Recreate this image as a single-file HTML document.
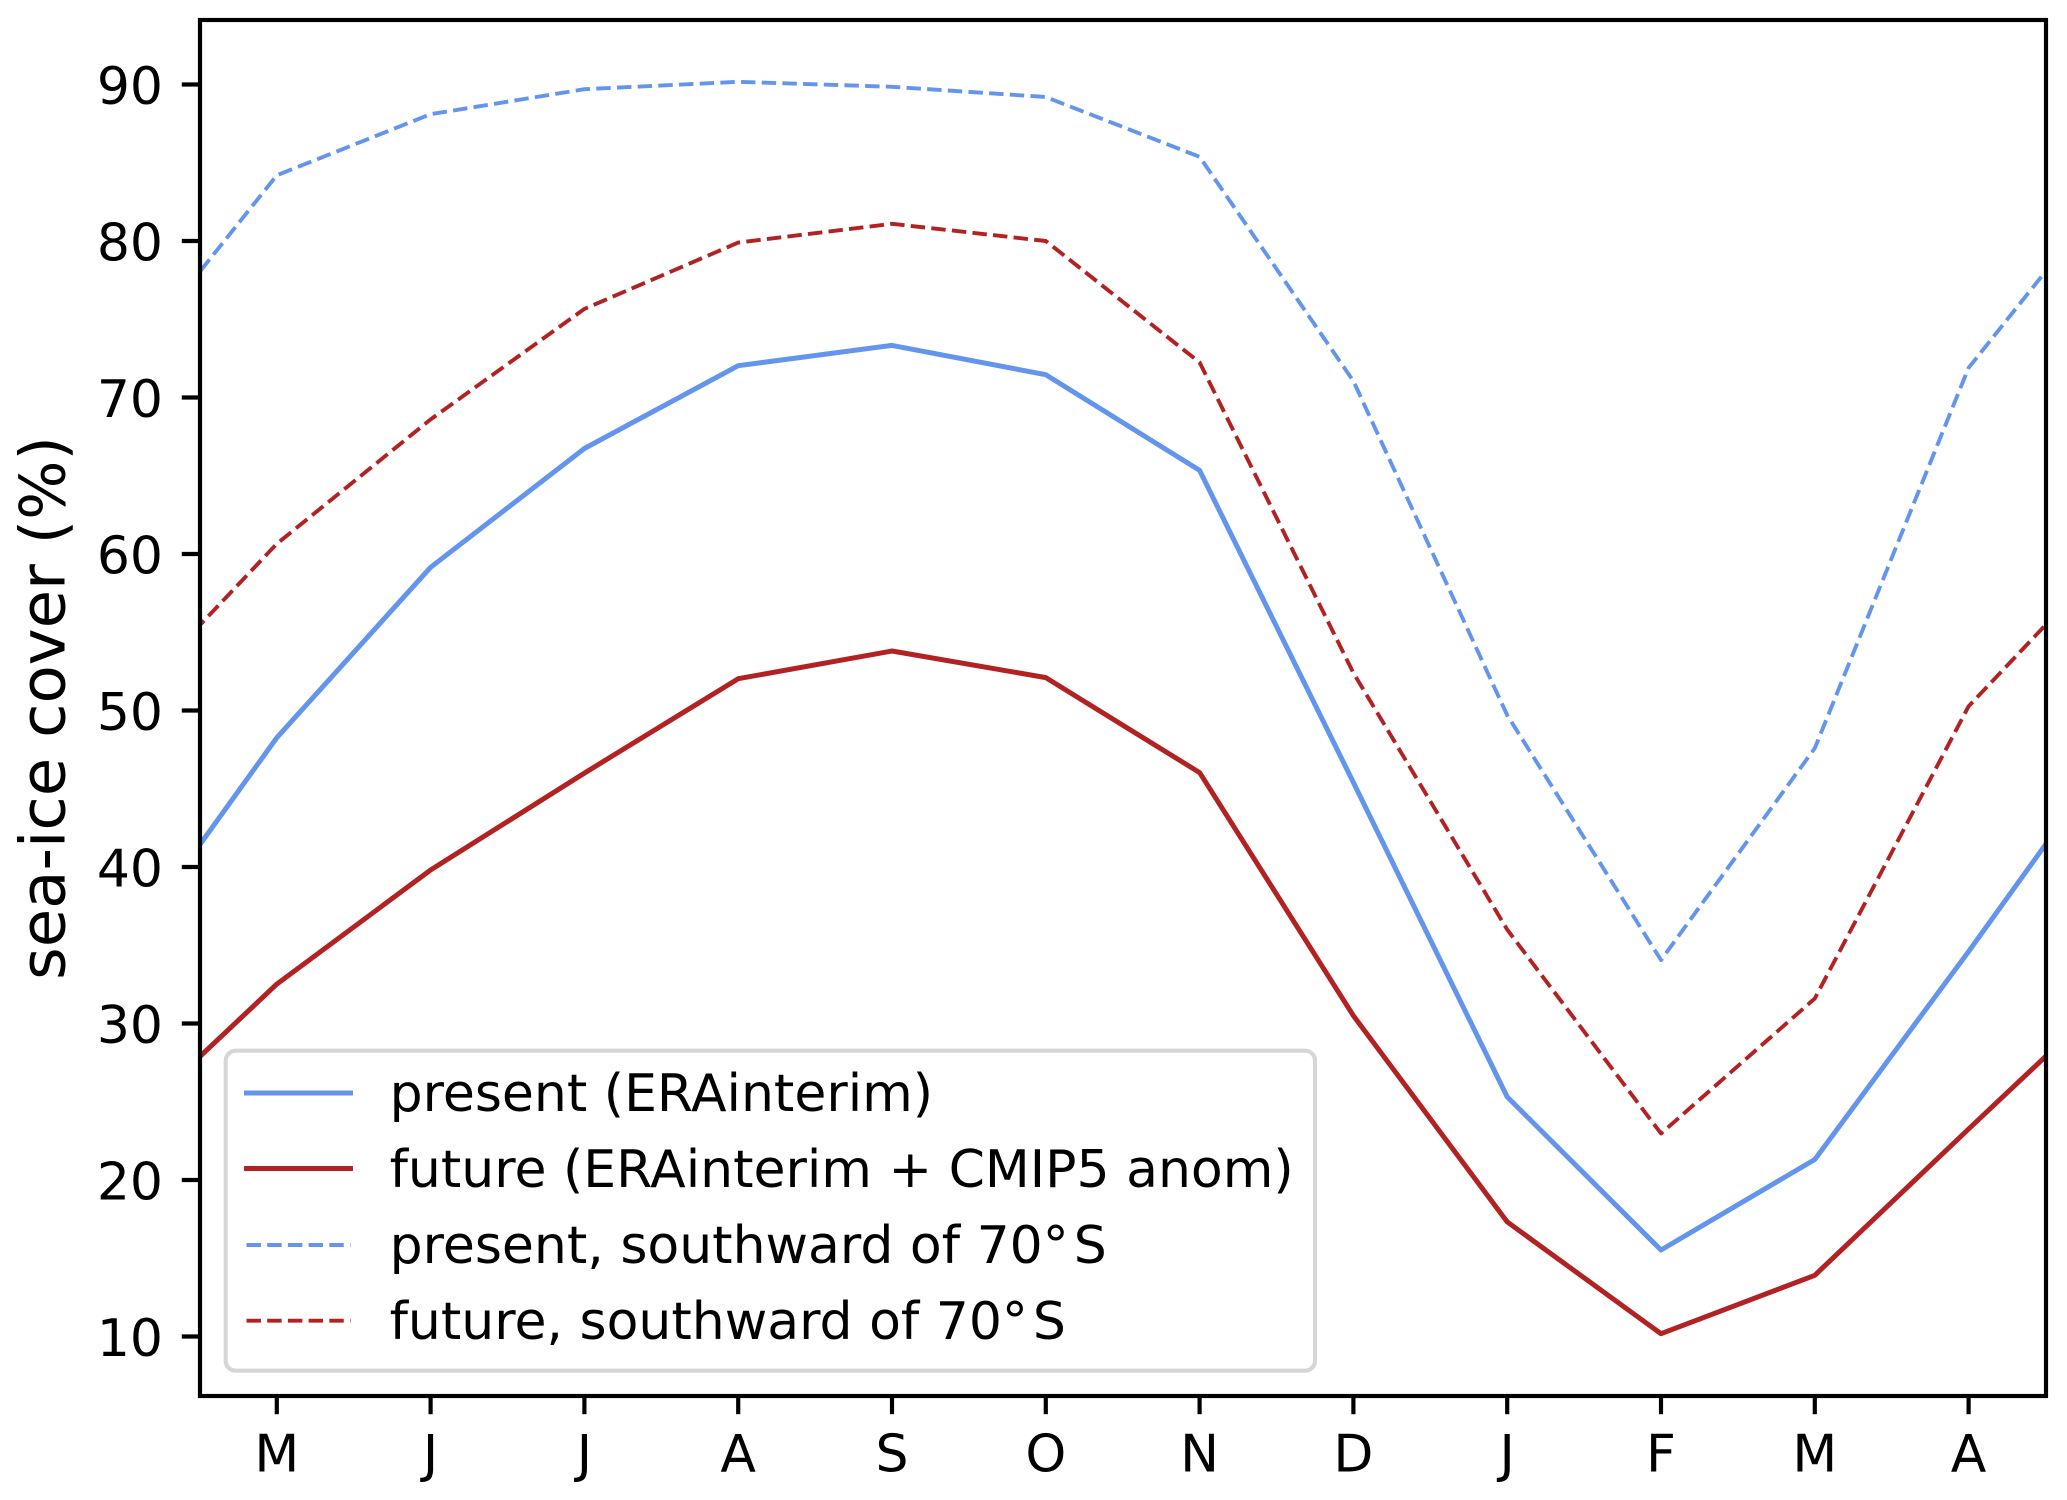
<!DOCTYPE html>
<html>
<head>
<meta charset="utf-8">
<style>
html,body{margin:0;padding:0;background:#ffffff;}
svg{display:block;}
text{font-family:"DejaVu Sans","Liberation Sans",sans-serif;fill:#000;}
</style>
</head>
<body>
<svg xmlns="http://www.w3.org/2000/svg" width="2067" height="1500" viewBox="0 0 2067 1500">
<rect x="0" y="0" width="2067" height="1500" fill="#ffffff"/>
<defs>
<clipPath id="ax"><rect x="200" y="20" width="1846" height="1376"/></clipPath>
</defs>
<g clip-path="url(#ax)" fill="none" stroke-linejoin="round">
<!-- present solid -->
<polyline stroke="#6495ED" stroke-width="5" stroke-linecap="square"
points="123.0,951.5 276.8,737.7 430.6,567.3 584.4,448.5 738.2,365.7 892.0,345.4 1045.8,374.7 1199.6,470.4 1353.4,782.5 1507.2,1096.9 1661.0,1250.0 1814.8,1159.5 1968.6,951.5 2122.4,737.7"/>
<!-- future solid -->
<polyline stroke="#B22222" stroke-width="5" stroke-linecap="square"
points="123.0,1129.0 276.8,984.1 430.6,870.0 584.4,773.1 738.2,678.7 892.0,651.0 1045.8,677.6 1199.6,772.6 1353.4,1015.7 1507.2,1221.9 1661.0,1333.7 1814.8,1275.3 1968.6,1129.0 2122.4,984.1"/>
<!-- present dashed -->
<polyline stroke="#6495ED" stroke-width="3.9" stroke-dasharray="14.45 6.25"
points="123.0,367.8 276.8,175.3 430.6,114.2 584.4,89.2 738.2,81.8 892.0,86.8 1045.8,97.0 1199.6,156.8 1353.4,381.1 1507.2,715.2 1661.0,960.1 1814.8,748.2 1968.6,367.8 2122.4,175.3"/>
<!-- future dashed -->
<polyline stroke="#B22222" stroke-width="3.9" stroke-dasharray="14.45 6.25"
points="123.0,706.3 276.8,543.8 430.6,419.4 584.4,308.9 738.2,242.6 892.0,223.8 1045.8,241.0 1199.6,362.4 1353.4,672.9 1507.2,929.6 1661.0,1133.5 1814.8,998.5 1968.6,706.3 2122.4,543.8"/>
</g>

<!-- spines -->
<rect x="200" y="20" width="1846" height="1376" fill="none" stroke="#000" stroke-width="4.17" stroke-linejoin="miter"/>

<!-- y ticks -->
<g stroke="#000" stroke-width="4.17">
<line x1="181.8" y1="84.5" x2="200" y2="84.5"/>
<line x1="181.8" y1="241.0" x2="200" y2="241.0"/>
<line x1="181.8" y1="397.5" x2="200" y2="397.5"/>
<line x1="181.8" y1="554.0" x2="200" y2="554.0"/>
<line x1="181.8" y1="710.5" x2="200" y2="710.5"/>
<line x1="181.8" y1="867.0" x2="200" y2="867.0"/>
<line x1="181.8" y1="1023.5" x2="200" y2="1023.5"/>
<line x1="181.8" y1="1180.0" x2="200" y2="1180.0"/>
<line x1="181.8" y1="1336.5" x2="200" y2="1336.5"/>
</g>
<g font-size="52" text-anchor="end">
<text x="163" y="104">90</text>
<text x="163" y="260.5">80</text>
<text x="163" y="417">70</text>
<text x="163" y="573.5">60</text>
<text x="163" y="730">50</text>
<text x="163" y="886.5">40</text>
<text x="163" y="1043">30</text>
<text x="163" y="1199.5">20</text>
<text x="163" y="1356">10</text>
</g>

<!-- x ticks -->
<g stroke="#000" stroke-width="4.17">
<line x1="276.8" y1="1396" x2="276.8" y2="1414.2"/>
<line x1="430.6" y1="1396" x2="430.6" y2="1414.2"/>
<line x1="584.4" y1="1396" x2="584.4" y2="1414.2"/>
<line x1="738.2" y1="1396" x2="738.2" y2="1414.2"/>
<line x1="892.0" y1="1396" x2="892.0" y2="1414.2"/>
<line x1="1045.8" y1="1396" x2="1045.8" y2="1414.2"/>
<line x1="1199.6" y1="1396" x2="1199.6" y2="1414.2"/>
<line x1="1353.4" y1="1396" x2="1353.4" y2="1414.2"/>
<line x1="1507.2" y1="1396" x2="1507.2" y2="1414.2"/>
<line x1="1661.0" y1="1396" x2="1661.0" y2="1414.2"/>
<line x1="1814.8" y1="1396" x2="1814.8" y2="1414.2"/>
<line x1="1968.6" y1="1396" x2="1968.6" y2="1414.2"/>
</g>
<g font-size="52" text-anchor="middle">
<text x="276.8" y="1471.5">M</text>
<text x="430.6" y="1471.5">J</text>
<text x="584.4" y="1471.5">J</text>
<text x="738.2" y="1471.5">A</text>
<text x="892.0" y="1471.5">S</text>
<text x="1045.8" y="1471.5">O</text>
<text x="1199.6" y="1471.5">N</text>
<text x="1353.4" y="1471.5">D</text>
<text x="1507.2" y="1471.5">J</text>
<text x="1661.0" y="1471.5">F</text>
<text x="1814.8" y="1471.5">M</text>
<text x="1968.6" y="1471.5">A</text>
</g>

<!-- y label -->
<text font-size="62.5" text-anchor="middle" transform="translate(64.5,708) rotate(-90)">sea-ice cover (%)</text>

<!-- legend -->
<rect x="225.7" y="1050.7" width="1089.3" height="320" rx="10" ry="10" fill="#ffffff" fill-opacity="0.8" stroke="#d6d6d6" stroke-width="4.17"/>
<line x1="246.5" y1="1093" x2="350.5" y2="1093" stroke="#6495ED" stroke-width="5" stroke-linecap="square"/>
<line x1="246.5" y1="1168.5" x2="350.5" y2="1168.5" stroke="#B22222" stroke-width="5" stroke-linecap="square"/>
<line x1="246.5" y1="1245" x2="350.5" y2="1245" stroke="#6495ED" stroke-width="3.9" stroke-dasharray="14.45 6.25"/>
<line x1="246.5" y1="1320.7" x2="350.5" y2="1320.7" stroke="#B22222" stroke-width="3.9" stroke-dasharray="14.45 6.25"/>
<g font-size="52">
<text x="389.6" y="1111">present (ERAinterim)</text>
<text x="389.6" y="1187">future (ERAinterim + CMIP5 anom)</text>
<text x="389.6" y="1263">present, southward of 70°<tspan dx="5">S</tspan></text>
<text x="389.6" y="1339">future, southward of 70°<tspan dx="5">S</tspan></text>
</g>
</svg>
</body>
</html>
